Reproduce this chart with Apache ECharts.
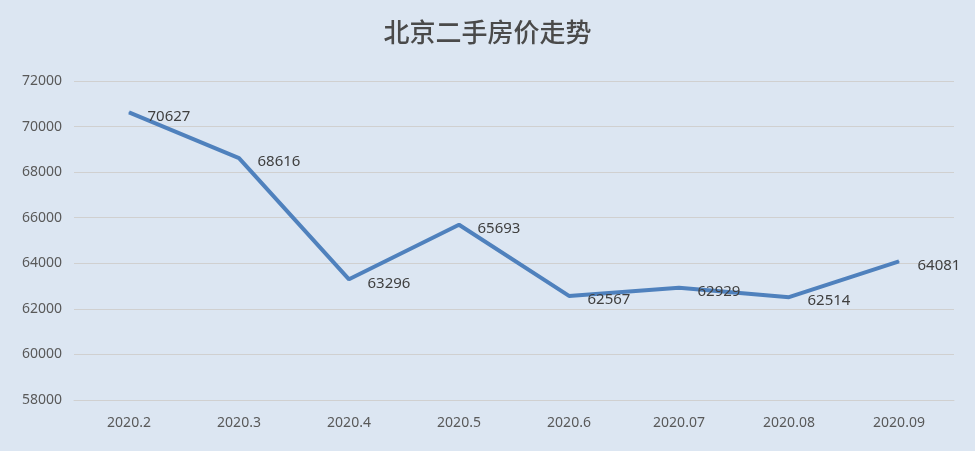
<!DOCTYPE html>
<html><head><meta charset="utf-8">
<script src="https://cdn.jsdelivr.net/npm/echarts@6/dist/echarts.min.js"></script>
<style>html,body{margin:0;padding:0;background:#dce6f2}#c{width:975px;height:451px}</style>
</head><body><div id="c"></div>
<script>
const categories = ['2020.2','2020.3','2020.4','2020.5','2020.6','2020.07','2020.08','2020.09'];
const prices = [70627,68616,63296,65693,62567,62929,62514,64081];
const chart = echarts.init(document.getElementById('c'));
chart.setOption({
  backgroundColor:'#dce6f2',
  title:{text:'北京二手房价走势',left:'center',top:14,textStyle:{fontFamily:'Noto Sans CJK SC',fontSize:26,fontWeight:500,color:'#4a4a4a'}},
  grid:{left:74,right:21,top:81,bottom:51},
  xAxis:{type:'category',data:categories,boundaryGap:true,
    axisLine:{show:true,lineStyle:{color:'#d0d0d0'}},axisTick:{show:false},
    axisLabel:{color:'#595959',fontSize:14,margin:16,fontFamily:'Noto Sans'}},
  yAxis:{type:'value',min:58000,max:72000,interval:2000,
    axisLine:{show:false},axisTick:{show:false},
    axisLabel:{color:'#595959',fontSize:14,margin:12,fontFamily:'Noto Sans',formatter:v=>String(v)},
    splitLine:{lineStyle:{color:'#d0d0d0'}}},
  series:[{type:'line',data:prices,symbol:'circle',symbolSize:1,showSymbol:true,
    itemStyle:{color:'#4f81bd'},
    lineStyle:{color:'#4f81bd',width:4},
    label:{show:true,position:'right',distance:18,offset:[0,4],color:'#404040',fontSize:15,fontFamily:'Noto Sans'}}],
  animation:false
});
</script></body></html>
